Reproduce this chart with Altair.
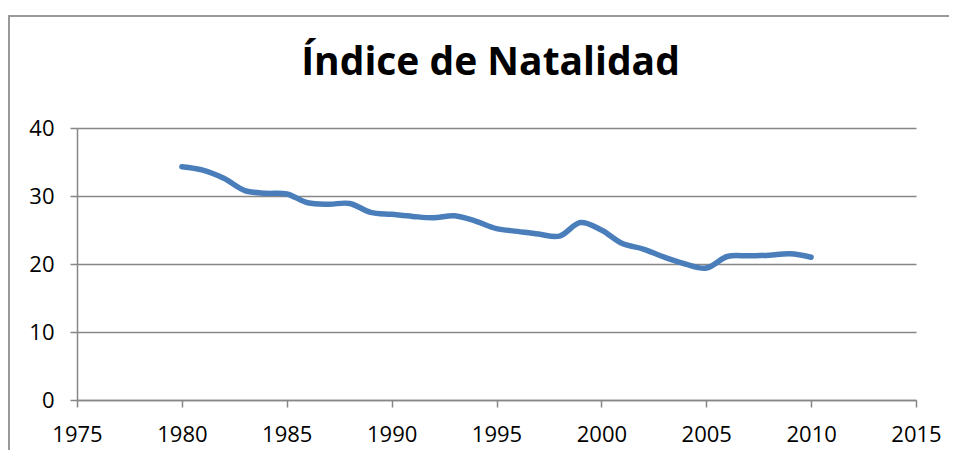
import altair as alt
import pandas as pd

years = list(range(1980, 2011))
values = [34.3, 33.8, 32.6, 30.8, 30.4, 30.3, 29.0, 28.8, 28.9, 27.6,
          27.3, 27.0, 26.8, 27.1, 26.3, 25.2, 24.8, 24.4, 24.1, 26.1,
          25.0, 23.0, 22.2, 21.0, 20.0, 19.4, 21.1, 21.2, 21.3, 21.5,
          21.0]
x_ticks = list(range(1975, 2016, 5))
y_ticks = [0, 10, 20, 30, 40]
title_text = "Índice de Natalidad"

df = pd.DataFrame({"year": years, "value": values})
title_df = pd.DataFrame({"t": [title_text]})

FONT = "Open Sans"
GRID = "#878787"

line = alt.Chart(df).mark_line(
    color="#4A7EBB", strokeWidth=5.5, interpolate="catmull-rom",
    strokeCap="round", strokeJoin="round"
).encode(
    x=alt.X("year:Q", scale=alt.Scale(domain=[1975, 2015], nice=False, zero=False),
            axis=alt.Axis(values=x_ticks, format="d", title=None, grid=False,
                          domainColor=GRID, tickColor=GRID, tickSize=7, domainWidth=1.5,
                          tickWidth=1.5, labelFontSize=22, labelFont=FONT,
                          labelColor="#000000", labelPadding=17, labelFlush=False)),
    y=alt.Y("value:Q", scale=alt.Scale(domain=[0, 40], nice=False),
            axis=alt.Axis(values=y_ticks, title=None, grid=True, gridColor=GRID,
                          gridWidth=1.5, domainColor=GRID, tickColor=GRID, tickSize=7,
                          domainWidth=1.5, tickWidth=1.5, labelFontSize=22, labelFont=FONT,
                          labelColor="#000000", labelPadding=16)),
)

border_left = alt.Chart(df).mark_rule(color="#999999", strokeWidth=2).encode(
    x=alt.value(-68.5), y=alt.value(-112), y2=alt.value(330)
)
border_top = alt.Chart(df).mark_rule(color="#999999", strokeWidth=1.2).encode(
    x=alt.value(-69), x2=alt.value(880), y=alt.value(-112)
)
title = alt.Chart(title_df).mark_text(
    font=FONT, fontSize=39, fontWeight="bold", color="#000000",
    align="center", baseline="alphabetic"
).encode(text="t:N", x=alt.value(413.5), y=alt.value(-53))

chart = alt.layer(border_left, border_top, title, line).properties(
    width=839, height=272,
    padding={"left": 69, "top": 120, "right": 33, "bottom": 50},
    autosize=alt.AutoSizeParams(type="none"),
).configure_view(stroke=None)

chart.save("out.html", embed_options={"renderer": "svg", "actions": False})
